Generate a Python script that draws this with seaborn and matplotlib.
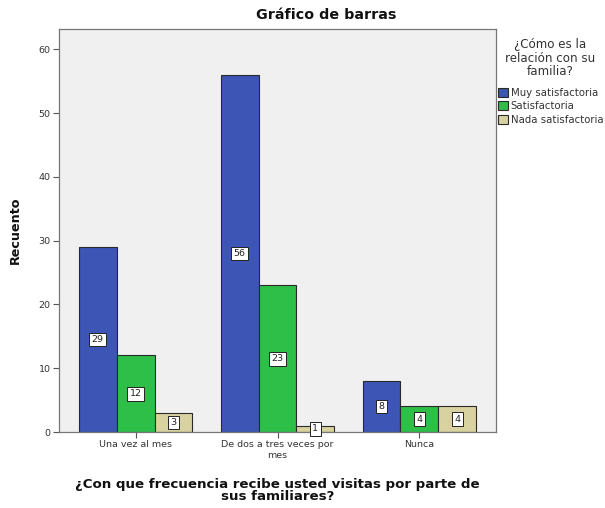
import matplotlib
matplotlib.use("Agg")
import matplotlib.pyplot as plt
import seaborn as sns
import pandas as pd

# Visit frequency categories and relationship ratings
frecuencias = ["Una vez al mes", "De dos a tres veces por\nmes", "Nunca"]
relaciones = ["Muy satisfactoria", "Satisfactoria", "Nada satisfactoria"]
muy_satisfactoria = [29, 56, 8]
satisfactoria = [12, 23, 4]
nada_satisfactoria = [3, 1, 4]
colores = ["#3d55b5", "#2ebf48", "#d8d2a0"]

df = pd.DataFrame({
    "frecuencia": frecuencias * 3,
    "relacion": [r for r in relaciones for _ in frecuencias],
    "recuento": muy_satisfactoria + satisfactoria + nada_satisfactoria,
})

sns.set_theme(style="white")
plt.rcParams["font.family"] = ["DejaVu Sans"]

W, H = 605, 508
fig = plt.figure(figsize=(W / 100, H / 100), dpi=100)
ax = fig.add_axes([59 / W, 1 - 432 / H, (496 - 59) / W, (432 - 29) / H])
ax.set_facecolor("#f0f0f0")

sns.barplot(data=df, x="frecuencia", y="recuento", hue="relacion",
            order=frecuencias, hue_order=relaciones, palette=colores,
            width=0.8, edgecolor="#2a2a2a", linewidth=0.8, saturation=1,
            ax=ax, legend=True)

for cont in ax.containers:
    ax.bar_label(cont, label_type="center", fontsize=6.8, color="#222222",
                 bbox=dict(boxstyle="square,pad=0.25", facecolor="white",
                           edgecolor="#222222", linewidth=0.7))

ax.set_ylim(0, 63.2)
ax.set_xlim(-0.54, 2.54)
ax.set_yticks([0, 10, 20, 30, 40, 50, 60])
ax.tick_params(axis="both", which="both", length=4, width=0.8, color="#555555",
               labelsize=6.8, labelcolor="#333333", direction="out", pad=2)
ax.tick_params(left=True, bottom=True)
for s in ax.spines.values():
    s.set_color("#777777")
    s.set_linewidth(0.9)

ax.set_ylabel("Recuento", fontsize=9.2, fontweight="bold",
              color="#111111", labelpad=12)
ax.set_xlabel("¿Con que frecuencia recibe usted visitas por parte de\nsus familiares?",
              fontsize=9.6, fontweight="bold", color="#111111",
              labelpad=13, linespacing=0.95)

# Chart title, centred over the plot and legend area
fig.text(326 / W, 1 - 15 / H, "Gráfico de barras", ha="center", va="center",
         fontsize=10.3, fontweight="bold", color="#111111")

# Legend: title block and colour entries
fig.text(550 / W, 1 - 58 / H, "¿Cómo es la\nrelación con su\nfamilia?",
         ha="center", va="center", multialignment="center",
         fontsize=8.6, color="#333333", linespacing=1.05)
handles, labels = ax.get_legend_handles_labels()
ax.legend_.remove()
leg = fig.legend(handles, labels, loc="upper left",
                 bbox_to_anchor=(498 / W, 1 - 88 / H), bbox_transform=fig.transFigure,
                 frameon=False, fontsize=7.3,
                 handlelength=1.0, handleheight=1.0, handletextpad=0.25,
                 labelspacing=0.33, borderaxespad=0, borderpad=0)
for t in leg.get_texts():
    t.set_color("#333333")

fig.savefig("out.png", dpi=100, facecolor="white")
